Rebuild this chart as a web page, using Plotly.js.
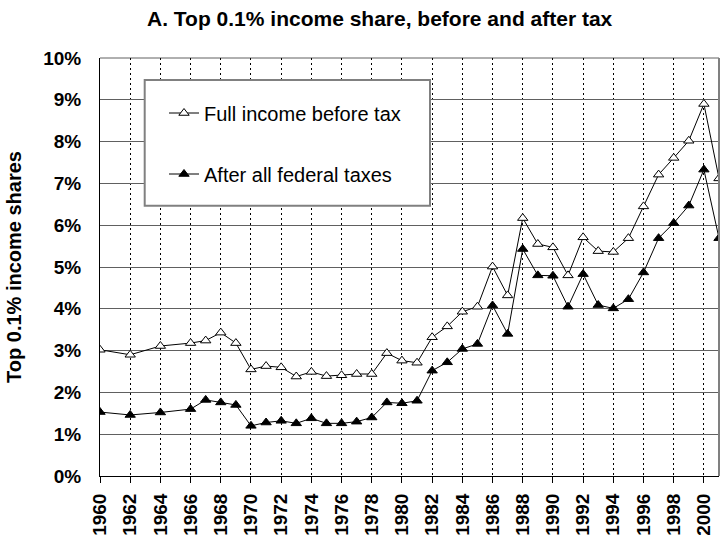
<!DOCTYPE html>
<html>
<head>
<meta charset="utf-8">
<script src="https://cdn.plot.ly/plotly-3.0.1.min.js"></script>
<style>html,body{margin:0;padding:0;background:#fff;}#chart{width:722px;height:543px;}</style>
</head>
<body>
<div id="chart"></div>
<script>
const years = [1960,1962,1964,1966,1967,1968,1969,1970,1971,1972,1973,1974,1975,1976,1977,1978,1979,1980,1981,1982,1983,1984,1985,1986,1987,1988,1989,1990,1991,1992,1993,1994,1995,1996,1997,1998,1999,2000,2001];
const beforeTax = [3.02,2.90,3.11,3.18,3.24,3.43,3.18,2.55,2.63,2.60,2.38,2.49,2.39,2.41,2.44,2.44,2.94,2.76,2.71,3.32,3.58,3.93,4.05,5.01,4.32,6.17,5.55,5.47,4.80,5.71,5.38,5.36,5.69,6.45,7.21,7.61,8.02,8.90,7.12];
const afterTax = [1.53,1.46,1.52,1.60,1.82,1.76,1.70,1.20,1.28,1.32,1.26,1.38,1.26,1.26,1.30,1.40,1.76,1.74,1.80,2.52,2.72,3.04,3.16,4.08,3.40,5.43,4.80,4.79,4.05,4.83,4.09,4.01,4.23,4.87,5.69,6.05,6.47,7.33,5.69];
const seriesNames = ["Full income before tax","After all federal taxes"];
const xTickVals = [1960,1962,1964,1966,1968,1970,1972,1974,1976,1978,1980,1982,1984,1986,1988,1990,1992,1994,1996,1998,2000];
const yTickVals = [0,1,2,3,4,5,6,7,8,9,10];

const FONT = "Liberation Sans, Arial, Helvetica, sans-serif";

const traces = [
  {x: years, y: beforeTax, name: seriesNames[0], type: "scatter", mode: "lines+markers",
   legendgroup: "a",
   line: {color: "#000", width: 1},
   marker: {symbol: "triangle-up", size: 9, color: "#fff", line: {color: "#000", width: 1}}},
  {x: years, y: afterTax, name: seriesNames[1], type: "scatter", mode: "lines+markers",
   legendgroup: "b",
   line: {color: "#000", width: 1},
   marker: {symbol: "triangle-up", size: 9, color: "#000", line: {color: "#000", width: 1}}}
];

const layout = {
  width: 722, height: 543,
  margin: {l: 100, r: 3, t: 58, b: 67, pad: 0},
  paper_bgcolor: "#fff", plot_bgcolor: "#fff",
  font: {family: FONT, color: "#000"},
  showlegend: true,
  title: {text: "A. Top 0.1% income share, before and after tax",
          font: {family: FONT, size: 21, weight: 700, color: "#000"},
          x: 147/722, xanchor: "left", xref: "container", y: 1 - 19/543, yanchor: "middle", yref: "container"},
  xaxis: {range: [1960, 2001], tickvals: xTickVals, ticktext: xTickVals.map(String),
          tickangle: -90, ticks: "outside", ticklen: 6, tickcolor: "#000", tickwidth: 1,
          ticklabelstandoff: 3,
          tickfont: {family: FONT, size: 19, weight: 700, color: "#000"},
          showline: true, linecolor: "#000", linewidth: 1,
          showgrid: true, gridcolor: "#000", gridwidth: 1, griddash: "2px,3px",
          zeroline: false, fixedrange: true},
  yaxis: {range: [0, 10], tickvals: yTickVals, ticktext: yTickVals.map(v => v + "%"),
          ticks: "", ticklabelstandoff: 14,
          tickfont: {family: FONT, size: 19, weight: 700, color: "#000"},
          showline: true, linecolor: "#000", linewidth: 1,
          showgrid: true, gridcolor: "#606060", gridwidth: 1,
          zeroline: false, fixedrange: true,
          title: {text: "Top 0.1% income shares", standoff: 16,
                  font: {family: FONT, size: 20, weight: 700, color: "#000"}}},
  legend: {x: (164-100)/619, xanchor: "left", y: (476-93.5)/418, yanchor: "top",
           bgcolor: "rgba(0,0,0,0)", borderwidth: 0, tracegroupgap: 32,
           traceorder: "grouped",
           font: {family: FONT, size: 20, color: "#000"}},
  shapes: [
    {type: "rect", xref: "paper", yref: "paper", x0: (144.7-100)/619, x1: (430-100)/619,
     y0: (476-205.7)/418, y1: (476-80)/418, fillcolor: "#fff",
     line: {color: "#808080", width: 2}, layer: "above"},
    {type: "line", xref: "paper", yref: "paper", x0: 1, x1: 1, y0: 0, y1: 1,
     line: {color: "#808080", width: 2}, layer: "above"},
    {type: "line", xref: "paper", yref: "paper", x0: 0, x1: 1, y0: 1, y1: 1,
     line: {color: "#606060", width: 1}, layer: "below"}
  ]
};

Plotly.newPlot("chart", traces, layout, {displayModeBar: false, staticPlot: true});
</script>
</body>
</html>
